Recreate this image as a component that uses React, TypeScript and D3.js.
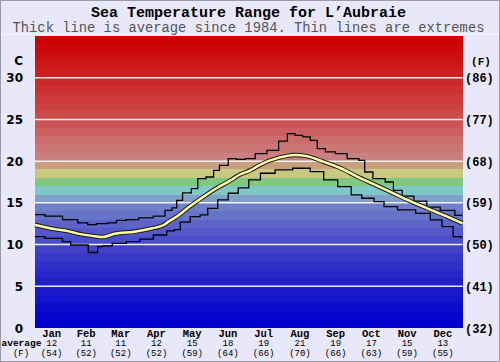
import * as d3 from "d3";

const months = ["Jan", "Feb", "Mar", "Apr", "May", "Jun", "Jul", "Aug", "Sep", "Oct", "Nov", "Dec"];
const monthLengths = [31, 28, 31, 30, 31, 30, 31, 31, 30, 31, 30, 31];
const avgC = [12, 11, 11, 12, 15, 18, 19, 21, 19, 17, 15, 13];
const avgF = [54, 52, 52, 52, 59, 64, 66, 70, 66, 63, 59, 55];

const celsiusTicks = [0, 5, 10, 15, 20, 25, 30];
const fahrenheitTicks = ["(32)", "(41)", "(50)", "(59)", "(68)", "(77)", "(86)"];

// day of year / temperature C
const maxDays = [0, 17, 30, 43, 47, 58, 66, 73, 83, 94, 108, 114, 120, 122, 130, 137, 141, 151, 154, 161, 169, 175, 184, 192, 204, 212, 219, 225, 232, 238, 244, 252, 261, 272, 281, 282, 295, 303, 309, 318, 329, 340, 352, 365];
const maxTemps = [13.6, 13.4, 13.0, 12.6, 12.4, 12.5, 12.6, 12.9, 13.0, 13.2, 13.4, 14.1, 14.4, 15.3, 16.2, 16.7, 17.9, 18.1, 18.9, 19.5, 20.3, 20.2, 20.3, 20.9, 21.3, 22.4, 23.3, 23.1, 22.9, 22.5, 21.5, 21.1, 20.9, 20.3, 20.1, 18.7, 17.9, 17.5, 16.5, 15.8, 15.2, 14.5, 14.1, 13.5];

const avgDays = [0, 17, 30, 34, 51, 58, 68, 85, 100, 110, 114, 121, 132, 144, 155, 167, 175, 184, 192, 209, 222, 232, 246, 261, 275, 289, 303, 318, 335, 352, 365];
const avgTemps = [12.35, 11.85, 11.55, 11.4, 11.0, 10.9, 11.3, 11.55, 11.95, 12.35, 12.75, 13.35, 14.55, 15.75, 16.75, 17.7, 18.4, 18.9, 19.55, 20.45, 20.75, 20.6, 19.95, 19.15, 18.15, 17.25, 16.35, 15.35, 14.35, 13.35, 12.55];

const minDays = [0, 17, 30, 31, 45, 46, 53, 54, 61, 71, 85, 94, 108, 117, 121, 127, 138, 144, 151, 161, 169, 178, 187, 198, 212, 228, 242, 251, 266, 274, 284, 295, 301, 318, 332, 343, 352, 362, 365];
const minTemps = [10.95, 10.75, 10.35, 9.95, 9.95, 9.05, 9.05, 9.75, 9.85, 10.15, 10.35, 10.65, 11.15, 11.65, 11.8, 12.7, 13.35, 13.55, 14.35, 15.35, 16.15, 16.8, 17.75, 18.55, 18.95, 19.15, 18.75, 17.75, 16.95, 15.95, 15.55, 15.15, 14.55, 14.15, 13.75, 12.95, 12.15, 10.95, 10.9];

// background band colours, from 0-1 C up to 34-35 C
const bandColors = [
  "#0000cc", "#0606cc", "#0c0ccc", "#1414cc", "#1a1acc", "#2020ca", "#2828ca", "#3030c8", "#3838c8", "#4040c8",
  "#4a4ec8", "#5458c8", "#5c64c8", "#6674c8", "#7080c8", "#80a0c8", "#80c8c8", "#80c880", "#c8c880", "#c8a080",
  "#c88080", "#cc7676", "#cc6c6c", "#cc6060", "#cc5656", "#cc4c4c", "#cc4242", "#cc3a3a", "#cc3030", "#cc2828",
  "#cc2020", "#cc1818", "#cc1010", "#cc0808", "#cc0000",
];

const W = 500;
const H = 362;
const x = d3.scaleLinear().domain([0, 365]).range([35, 462.5]);
const y = d3.scaleLinear().domain([0, 35]).range([328, 36]);

const monthStarts = d3.cumsum([0, ...monthLengths]);

const toPts = (days: number[], temps: number[]) => days.map((d, i) => [d, temps[i]] as [number, number]);

const stepLine = d3
  .line<[number, number]>()
  .x((d) => x(d[0]))
  .y((d) => y(d[1]))
  .curve(d3.curveStep);

const smoothLine = d3
  .line<[number, number]>()
  .x((d) => x(d[0]))
  .y((d) => y(d[1]))
  .curve(d3.curveMonotoneX);

const mono = "'Liberation Mono', 'Courier New', monospace";
const sans = "'DejaVu Sans', Verdana, sans-serif";

export default function App() {
  const [x0, x1] = x.range();
  return (
    <svg
      width={W}
      height={H}
      viewBox={`0 0 ${W} ${H}`}
      style={{ position: "fixed", left: 0, top: 0, display: "block" }}
    >
      <rect x={0} y={0} width={W} height={H} fill="#e8e8fa" />
      <line x1={0} x2={W} y1={34.5} y2={34.5} stroke="#f6f6ff" />

      <text x={248.5} y={16.5} textAnchor="middle" fontFamily={mono} fontWeight="bold" fontSize={15}>
        Sea Temperature Range for L’Aubraie
      </text>
      <text x={248.5} y={31.5} textAnchor="middle" fontFamily={mono} fontSize={13.8} fill="#555">
        Thick line is average since 1984. Thin lines are extremes
      </text>

      <g shapeRendering="crispEdges">
        {bandColors.map((c, i) => (
          <rect key={i} x={x0} width={x1 - x0} y={Math.round(y(i + 1))} height={Math.round(y(i)) - Math.round(y(i + 1))} fill={c} />
        ))}
      </g>

      {celsiusTicks.slice(1).map((t) => (
        <line key={t} x1={x0} x2={x1} y1={y(t)} y2={y(t)} stroke="#fff" strokeWidth={1.5} opacity={0.9} />
      ))}

      {monthStarts.slice(1, -1).map((d) => (
        <line key={d} x1={x(d) + 0.5} x2={x(d) + 0.5} y1={y(35)} y2={y(0)} stroke="#6a6a6a" strokeWidth={1} />
      ))}

      <path d={stepLine(toPts(maxDays, maxTemps)) ?? ""} fill="none" stroke="#000" strokeWidth={1.3} />
      <path d={stepLine(toPts(minDays, minTemps)) ?? ""} fill="none" stroke="#000" strokeWidth={1.3} />
      <path d={smoothLine(toPts(avgDays, avgTemps)) ?? ""} fill="none" stroke="#1a1a1a" strokeWidth={4.5} />
      <path d={smoothLine(toPts(avgDays, avgTemps)) ?? ""} fill="none" stroke="#ffffa8" strokeWidth={2.5} />

      <text x={23} y={65} textAnchor="end" fontFamily={sans} fontWeight="bold" fontSize={12}>
        C
      </text>
      <text x={481} y={65} textAnchor="middle" fontFamily={mono} fontWeight="bold" fontSize={11}>
        (F)
      </text>
      {celsiusTicks.map((t, i) => (
        <g key={t}>
          <text x={23} y={y(t) + 4.5} textAnchor="end" fontFamily={sans} fontWeight="bold" fontSize={12}>
            {t}
          </text>
          <text x={465} y={y(t) + 4.5} fontFamily={mono} fontWeight="bold" fontSize={12}>
            {fahrenheitTicks[i]}
          </text>
        </g>
      ))}

      {months.map((m, i) => {
        const cx = x(monthStarts[i] + monthLengths[i] / 2) - 1.5;
        return (
          <g key={m} fontFamily={mono} textAnchor="middle">
            <text x={cx} y={336.5} fontWeight="bold" fontSize={10.5}>
              {m}
            </text>
            <text x={cx} y={346} fontSize={9}>
              {avgC[i]}
            </text>
            <text x={cx} y={355.5} fontSize={9}>
              ({avgF[i]})
            </text>
          </g>
        );
      })}
      <text x={1.5} y={346} fontFamily={mono} fontWeight="bold" fontSize={9.5}>
        average
      </text>
      <text x={21} y={355.5} textAnchor="middle" fontFamily={mono} fontSize={9}>
        (F)
      </text>

      <rect x={0.5} y={0.5} width={W - 1} height={H - 1} fill="none" stroke="#9a9aa8" />
    </svg>
  );
}
